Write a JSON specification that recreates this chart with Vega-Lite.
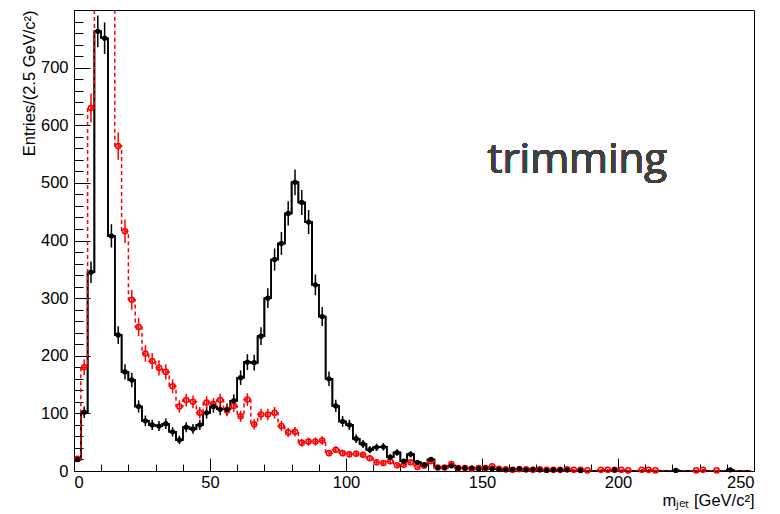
{
  "$schema": "https://vega.github.io/schema/vega-lite/v6.json",
  "width": 680,
  "height": 461,
  "autosize": {"type": "none"},
  "padding": {"left": 74, "top": 10, "right": 26, "bottom": 43},
  "background": "white",
  "config": {
    "view": {"stroke": "black", "strokeWidth": 1},
    "axis": {"grid": false, "tickColor": "black", "domainColor": "black", "labelColor": "black", "titleColor": "black", "labelFont": "Liberation Sans", "titleFont": "Liberation Sans", "labelFontSize": 16.5, "titleFontSize": 16.5, "titleFontWeight": "normal"}
  },
  "data": {
    "values": [
      {"m":1.25,"b":20,"bl":15.5,"bh":24.5,"r":21,"rl":16.4,"rh":25.6},
      {"m":3.75,"b":102,"bl":91.9,"bh":112.1,"r":180,"rl":166.6,"rh":193.4},
      {"m":6.25,"b":345,"bl":326.4,"bh":363.6,"r":630,"rl":604.9,"rh":655.1},
      {"m":8.75,"b":763,"bl":735.4,"bh":790.6,"r":1350,"rl":1313.3,"rh":1386.7},
      {"m":11.25,"b":751,"bl":723.6,"bh":778.4,"r":1150,"rl":1116,"rh":1184},
      {"m":13.75,"b":408,"bl":387.8,"bh":428.2,"r":950,"rl":919,"rh":981},
      {"m":16.25,"b":236,"bl":220.6,"bh":251.4,"r":564,"rl":540.3,"rh":587.7},
      {"m":18.75,"b":172,"bl":158.9,"bh":185.1,"r":416,"rl":395.6,"rh":436.4},
      {"m":21.25,"b":158,"bl":145.4,"bh":170.6,"r":297,"rl":279.8,"rh":314.2},
      {"m":23.75,"b":112,"bl":101.4,"bh":122.6,"r":250,"rl":234.2,"rh":265.8},
      {"m":26.25,"b":87,"bl":77.7,"bh":96.3,"r":204,"rl":189.7,"rh":218.3},
      {"m":28.75,"b":80,"bl":71.1,"bh":88.9,"r":191,"rl":177.2,"rh":204.8},
      {"m":31.25,"b":78,"bl":69.2,"bh":86.8,"r":179,"rl":165.6,"rh":192.4},
      {"m":33.75,"b":82,"bl":72.9,"bh":91.1,"r":172,"rl":158.9,"rh":185.1},
      {"m":36.25,"b":68,"bl":59.8,"bh":76.2,"r":147,"rl":134.9,"rh":159.1},
      {"m":38.75,"b":54,"bl":46.7,"bh":61.3,"r":112,"rl":101.4,"rh":122.6},
      {"m":41.25,"b":76,"bl":67.3,"bh":84.7,"r":123,"rl":111.9,"rh":134.1},
      {"m":43.75,"b":73,"bl":64.5,"bh":81.5,"r":120,"rl":109,"rh":131},
      {"m":46.25,"b":80,"bl":71.1,"bh":88.9,"r":101,"rl":91,"rh":111},
      {"m":48.75,"b":101,"bl":91,"bh":111,"r":119,"rl":108.1,"rh":129.9},
      {"m":51.25,"b":112,"bl":101.4,"bh":122.6,"r":116,"rl":105.2,"rh":126.8},
      {"m":53.75,"b":107,"bl":96.7,"bh":117.3,"r":123,"rl":111.9,"rh":134.1},
      {"m":56.25,"b":107,"bl":96.7,"bh":117.3,"r":105,"rl":94.8,"rh":115.2},
      {"m":58.75,"b":122,"bl":111,"bh":133,"r":113,"rl":102.4,"rh":123.6},
      {"m":61.25,"b":162,"bl":149.3,"bh":174.7,"r":95,"rl":85.3,"rh":104.7},
      {"m":63.75,"b":189,"bl":175.3,"bh":202.7,"r":124,"rl":112.9,"rh":135.1},
      {"m":66.25,"b":188,"bl":174.3,"bh":201.7,"r":81,"rl":72,"rh":90},
      {"m":68.75,"b":234,"bl":218.7,"bh":249.3,"r":98,"rl":88.1,"rh":107.9},
      {"m":71.25,"b":300,"bl":282.7,"bh":317.3,"r":98,"rl":88.1,"rh":107.9},
      {"m":73.75,"b":367,"bl":347.8,"bh":386.2,"r":101,"rl":91,"rh":111},
      {"m":76.25,"b":395,"bl":375.1,"bh":414.9,"r":78,"rl":69.2,"rh":86.8},
      {"m":78.75,"b":447,"bl":425.9,"bh":468.1,"r":67,"rl":58.8,"rh":75.2},
      {"m":81.25,"b":501,"bl":478.6,"bh":523.4,"r":68,"rl":59.8,"rh":76.2},
      {"m":83.75,"b":466,"bl":444.4,"bh":487.6,"r":49,"rl":42,"rh":56},
      {"m":86.25,"b":432,"bl":411.2,"bh":452.8,"r":51,"rl":43.9,"rh":58.1},
      {"m":88.75,"b":323,"bl":305,"bh":341,"r":51,"rl":43.9,"rh":58.1},
      {"m":91.25,"b":268,"bl":251.6,"bh":284.4,"r":53,"rl":45.7,"rh":60.3},
      {"m":93.75,"b":160,"bl":147.4,"bh":172.6,"r":31,"rl":25.4,"rh":36.6},
      {"m":96.25,"b":113,"bl":102.4,"bh":123.6,"r":37,"rl":30.9,"rh":43.1},
      {"m":98.75,"b":86,"bl":76.7,"bh":95.3,"r":31,"rl":25.4,"rh":36.6},
      {"m":101.25,"b":80,"bl":71.1,"bh":88.9,"r":29,"rl":23.6,"rh":34.4},
      {"m":103.75,"b":56,"bl":48.5,"bh":63.5,"r":30,"rl":24.5,"rh":35.5},
      {"m":106.25,"b":47,"bl":40.1,"bh":53.9,"r":28,"rl":22.7,"rh":33.3},
      {"m":108.75,"b":37,"bl":30.9,"bh":43.1,"r":22,"rl":17.3,"rh":26.7},
      {"m":111.25,"b":41,"bl":34.6,"bh":47.4,"r":15,"rl":11.1,"rh":18.9},
      {"m":113.75,"b":42,"bl":35.5,"bh":48.5,"r":14,"rl":10.3,"rh":17.7},
      {"m":116.25,"b":24,"bl":19.1,"bh":28.9,"r":17,"rl":12.9,"rh":21.1},
      {"m":118.75,"b":32,"bl":26.3,"bh":37.7,"r":10,"rl":6.8,"rh":13.2},
      {"m":121.25,"b":17,"bl":12.9,"bh":21.1,"r":11,"rl":7.7,"rh":14.3},
      {"m":123.75,"b":29,"bl":23.6,"bh":34.4,"r":15,"rl":11.1,"rh":18.9},
      {"m":126.25,"b":15,"bl":11.1,"bh":18.9,"r":7,"rl":4.4,"rh":9.6},
      {"m":128.75,"b":11,"bl":7.7,"bh":14.3,"r":9,"rl":6,"rh":12},
      {"m":131.25,"b":20,"bl":15.5,"bh":24.5,"r":17,"rl":12.9,"rh":21.1},
      {"m":133.75,"b":6,"bl":3.6,"bh":8.4,"r":6,"rl":3.6,"rh":8.4},
      {"m":136.25,"b":6,"bl":3.6,"bh":8.4,"r":6,"rl":3.6,"rh":8.4},
      {"m":138.75,"b":9,"bl":6,"bh":12,"r":12,"rl":8.5,"rh":15.5},
      {"m":141.25,"b":5,"bl":2.8,"bh":7.2,"r":5,"rl":2.8,"rh":7.2},
      {"m":143.75,"b":5,"bl":2.8,"bh":7.2,"r":5,"rl":2.8,"rh":7.2},
      {"m":146.25,"b":5,"bl":2.8,"bh":7.2,"r":4,"rl":2,"rh":6},
      {"m":148.75,"b":4,"bl":2,"bh":6,"r":5,"rl":2.8,"rh":7.2},
      {"m":151.25,"b":5,"bl":2.8,"bh":7.2,"r":5,"rl":2.8,"rh":7.2},
      {"m":153.75,"b":4,"bl":2,"bh":6,"r":8,"rl":5.2,"rh":10.8},
      {"m":156.25,"b":3,"bl":1.3,"bh":4.7,"r":4,"rl":2,"rh":6},
      {"m":158.75,"b":2,"bl":0.6,"bh":3.4,"r":3,"rl":1.3,"rh":4.7},
      {"m":161.25,"b":3,"bl":1.3,"bh":4.7,"r":2,"rl":0.6,"rh":3.4},
      {"m":163.75,"b":4,"bl":2,"bh":6,"r":3,"rl":1.3,"rh":4.7},
      {"m":166.25,"b":2,"bl":0.6,"bh":3.4,"r":3,"rl":1.3,"rh":4.7},
      {"m":168.75,"b":3,"bl":1.3,"bh":4.7,"r":2,"rl":0.6,"rh":3.4},
      {"m":171.25,"b":2,"bl":0.6,"bh":3.4,"r":3,"rl":1.3,"rh":4.7},
      {"m":173.75,"b":1,"bl":0,"bh":2,"r":2,"rl":0.6,"rh":3.4},
      {"m":176.25,"b":2,"bl":0.6,"bh":3.4,"r":2,"rl":0.6,"rh":3.4},
      {"m":178.75,"b":2,"bl":0.6,"bh":3.4,"r":2,"rl":0.6,"rh":3.4},
      {"m":181.25,"b":2,"bl":0.6,"bh":3.4,"r":3,"rl":1.3,"rh":4.7},
      {"m":183.75,"b":0,"bl":0,"bh":0,"r":2,"rl":0.6,"rh":3.4},
      {"m":186.25,"b":1,"bl":0,"bh":2,"r":2,"rl":0.6,"rh":3.4},
      {"m":188.75,"b":0,"bl":0,"bh":0,"r":1,"rl":0,"rh":2},
      {"m":191.25,"b":0,"bl":0,"bh":0,"r":0,"rl":0,"rh":0},
      {"m":193.75,"b":0,"bl":0,"bh":0,"r":2,"rl":0.6,"rh":3.4},
      {"m":196.25,"b":0,"bl":0,"bh":0,"r":2,"rl":0.6,"rh":3.4},
      {"m":198.75,"b":2,"bl":0.6,"bh":3.4,"r":2,"rl":0.6,"rh":3.4},
      {"m":201.25,"b":0,"bl":0,"bh":0,"r":2,"rl":0.6,"rh":3.4},
      {"m":203.75,"b":0,"bl":0,"bh":0,"r":1,"rl":0,"rh":2},
      {"m":206.25,"b":0,"bl":0,"bh":0,"r":0,"rl":0,"rh":0},
      {"m":208.75,"b":0,"bl":0,"bh":0,"r":2,"rl":0.6,"rh":3.4},
      {"m":211.25,"b":0,"bl":0,"bh":0,"r":2,"rl":0.6,"rh":3.4},
      {"m":213.75,"b":0,"bl":0,"bh":0,"r":1,"rl":0,"rh":2},
      {"m":216.25,"b":0,"bl":0,"bh":0,"r":0,"rl":0,"rh":0},
      {"m":218.75,"b":0,"bl":0,"bh":0,"r":0,"rl":0,"rh":0},
      {"m":221.25,"b":1,"bl":0,"bh":2,"r":0,"rl":0,"rh":0},
      {"m":223.75,"b":0,"bl":0,"bh":0,"r":0,"rl":0,"rh":0},
      {"m":226.25,"b":0,"bl":0,"bh":0,"r":0,"rl":0,"rh":0},
      {"m":228.75,"b":0,"bl":0,"bh":0,"r":1,"rl":0,"rh":2},
      {"m":231.25,"b":0,"bl":0,"bh":0,"r":2,"rl":0.6,"rh":3.4},
      {"m":233.75,"b":0,"bl":0,"bh":0,"r":0,"rl":0,"rh":0},
      {"m":236.25,"b":0,"bl":0,"bh":0,"r":1,"rl":0,"rh":2},
      {"m":238.75,"b":0,"bl":0,"bh":0,"r":0,"rl":0,"rh":0},
      {"m":241.25,"b":2,"bl":0.6,"bh":3.4,"r":0,"rl":0,"rh":0},
      {"m":243.75,"b":0,"bl":0,"bh":0,"r":0,"rl":0,"rh":0},
      {"m":246.25,"b":0,"bl":0,"bh":0,"r":0,"rl":0,"rh":0},
      {"m":248.75,"b":0,"bl":0,"bh":0,"r":0,"rl":0,"rh":0}
    ]
  },
  "resolve": {"scale": {"x": "independent", "y": "independent"}, "axis": {"x": "independent", "y": "independent"}},
  "layer": [
    {
      "mark": {"type": "line", "interpolate": "step", "color": "black", "strokeWidth": 1.5},
      "encoding": {
        "x": {"field": "m", "type": "quantitative", "scale": {"domain": [0, 250], "nice": false},
              "axis": {"orient": "bottom", "values": [0, 50, 100, 150, 200, 250], "ticks": false, "labelPadding": 3, "title": "mⱼₑₜ [GeV/c²]", "titleAnchor": "end", "titlePadding": 2}},
        "y": {"field": "b", "type": "quantitative", "scale": {"domain": [0, 800], "nice": false},
              "axis": {"orient": "left", "values": [0, 100, 200, 300, 400, 500, 600, 700], "ticks": false, "labelPadding": 6, "title": "Entries/(2.5 GeV/c²)", "titleAnchor": "end", "titlePadding": 3}}
      }
    },
    {
      "mark": {"type": "line", "interpolate": "step", "color": "black", "strokeWidth": 1.5},
      "encoding": {
        "x": {"field": "m", "type": "quantitative", "scale": {"domain": [0, 250], "nice": false},
              "axis": {"orient": "top", "offset": -461, "values": [0, 50, 100, 150, 200, 250], "tickSize": 13, "labels": false, "domain": false, "title": null}},
        "y": {"field": "b", "type": "quantitative", "scale": {"domain": [0, 800], "nice": false},
              "axis": {"orient": "right", "offset": -680, "values": [0, 100, 200, 300, 400, 500, 600, 700, 800], "tickSize": 16, "labels": false, "domain": false, "title": null}}
      }
    },
    {
      "mark": {"type": "line", "interpolate": "step", "color": "black", "strokeWidth": 1.5},
      "encoding": {
        "x": {"field": "m", "type": "quantitative", "scale": {"domain": [0, 250], "nice": false},
              "axis": {"orient": "top", "offset": -461, "values": [10, 20, 30, 40, 60, 70, 80, 90, 110, 120, 130, 140, 160, 170, 180, 190, 210, 220, 230, 240], "tickSize": 7, "labels": false, "domain": false, "title": null}},
        "y": {"field": "b", "type": "quantitative", "scale": {"domain": [0, 800], "nice": false},
              "axis": {"orient": "right", "offset": -680, "values": [20, 40, 60, 80, 120, 140, 160, 180, 220, 240, 260, 280, 320, 340, 360, 380, 420, 440, 460, 480, 520, 540, 560, 580, 620, 640, 660, 680, 720, 740, 760, 780], "tickSize": 9, "labels": false, "domain": false, "title": null}}
      }
    },
    {
      "mark": {"type": "line", "interpolate": "step", "color": "#ff0000", "strokeWidth": 1.5, "strokeDash": [4, 3], "clip": true},
      "encoding": {
        "x": {"field": "m", "type": "quantitative", "scale": {"domain": [0, 250], "nice": false}, "axis": null},
        "y": {"field": "r", "type": "quantitative", "scale": {"domain": [0, 800], "nice": false}, "axis": null}
      }
    },
    {
      "transform": [{"filter": "datum.b > 0"}],
      "mark": {"type": "rule", "color": "black", "strokeWidth": 1.5},
      "encoding": {
        "x": {"field": "m", "type": "quantitative", "scale": {"domain": [0, 250], "nice": false}, "axis": null},
        "y": {"field": "bl", "type": "quantitative", "scale": {"domain": [0, 800], "nice": false}, "axis": null},
        "y2": {"field": "bh"}
      }
    },
    {
      "transform": [{"filter": "datum.r > 0 && datum.r < 800"}],
      "mark": {"type": "rule", "color": "#ff0000", "strokeWidth": 1.5},
      "encoding": {
        "x": {"field": "m", "type": "quantitative", "scale": {"domain": [0, 250], "nice": false}, "axis": null},
        "y": {"field": "rl", "type": "quantitative", "scale": {"domain": [0, 800], "nice": false}, "axis": null},
        "y2": {"field": "rh"}
      }
    },
    {
      "transform": [{"filter": "datum.r > 0 && datum.r < 800"}],
      "mark": {"type": "point", "shape": "circle", "filled": false, "color": "#ff0000", "size": 26, "strokeWidth": 1.5, "opacity": 1},
      "encoding": {
        "x": {"field": "m", "type": "quantitative", "scale": {"domain": [0, 250], "nice": false}, "axis": null},
        "y": {"field": "r", "type": "quantitative", "scale": {"domain": [0, 800], "nice": false}, "axis": null}
      }
    },
    {
      "transform": [{"filter": "datum.b > 0"}],
      "mark": {"type": "point", "shape": "circle", "filled": true, "color": "black", "size": 28, "opacity": 1},
      "encoding": {
        "x": {"field": "m", "type": "quantitative", "scale": {"domain": [0, 250], "nice": false}, "axis": null},
        "y": {"field": "b", "type": "quantitative", "scale": {"domain": [0, 800], "nice": false}, "axis": null}
      }
    },
    {
      "mark": {"type": "text", "text": "trimming", "font": "Open Sans", "fontSize": 42, "color": "#404040", "align": "left", "baseline": "alphabetic"},
      "encoding": {
        "x": {"datum": 152, "type": "quantitative", "scale": {"domain": [0, 250], "nice": false}, "axis": null},
        "y": {"datum": 517, "type": "quantitative", "scale": {"domain": [0, 800], "nice": false}, "axis": null}
      }
    }
  ]
}
